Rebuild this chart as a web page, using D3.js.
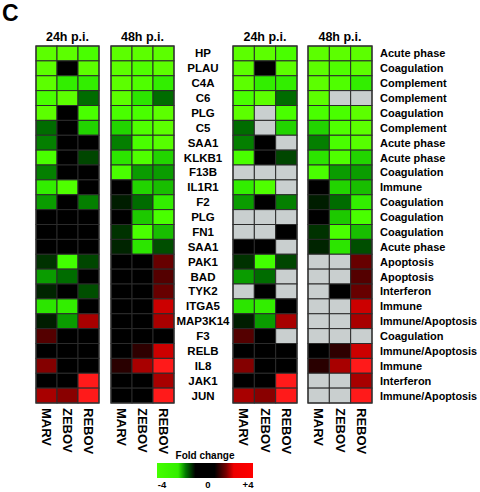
<!DOCTYPE html>
<html><head><meta charset="utf-8">
<script src="https://cdn.jsdelivr.net/npm/d3@7/dist/d3.min.js"></script>
<style>body{margin:0;background:#fff}svg{display:block;font-family:"Liberation Sans",Arial,sans-serif;font-weight:bold}</style>
</head><body><svg id="c" width="480" height="492"></svg>
<script>
const genes = ["HP","PLAU","C4A","C6","PLG","C5","SAA1","KLKB1","F13B","IL1R1","F2","PLG","FN1","SAA1","PAK1","BAD","TYK2","ITGA5","MAP3K14","F3","RELB","IL8","JAK1","JUN"];
const categories = ["Acute phase","Coagulation","Complement","Complement","Coagulation","Complement","Acute phase","Acute phase","Coagulation","Immune","Coagulation","Coagulation","Coagulation","Acute phase","Apoptosis","Apoptosis","Interferon","Immune","Immune/Apoptosis","Coagulation","Immune/Apoptosis","Immune","Interferon","Immune/Apoptosis"];
const viruses = ["MARV","ZEBOV","REBOV"];
const timepoints = ["24h p.i.","48h p.i."];
// fold change (log scale), rows = genes, cols = MARV, ZEBOV, REBOV
const fc24 = [
 [-4,-4,-3.7],[-4,0,-4],[-4,-3.3,-3.3],[-3.7,-4,-2],[-4,0,-3.7],[-2,0,-3],
 [-2.2,0,0],[-3.7,0,-1.5],[-2.2,0,0],[-3.3,-3.8,0],[-2.5,0,-2.2],[0,0,0],
 [0,0,0],[0,0,0],[-1.2,-3.6,-1.5],[-2.5,-2,0],[-1,0,-1.6],[-3.2,-3.3,0],
 [-0.8,-2.5,3],[1.5,0,0],[0,0,0],[2.3,0,0],[0,0,4],[3,2.4,4]
];
const fc48 = [
 [-4,-4,-4],[-4,-3.8,-4],[-4,-3.8,-3.3],[-4,-3.2,-2],[-3.7,-3.7,-4],[-3,-3.8,-4],
 [-2.2,-3.7,-3.9],[-3.2,-3.8,-3],[-3.7,-2.5,-2.5],[0,-3,-2.8],[-0.8,-2,-3.3],[0,-2.9,-3.7],
 [-1.2,-3.7,-2.8],[-1,-3.2,-1.6],[0,0,1.8],[0,0,1.5],[0,0,1.8],[0,0,3.5],
 [0,0,3],[0,0,0],[0,1,3.5],[0.9,3,4],[0,0,3],[0,0,4]
];
// 1 = not significant (grey) in the right-hand panels
const ns24 = [
 [0,0,0],[0,0,0],[0,0,0],[0,0,0],[0,1,0],[0,1,0],[0,0,1],[0,0,0],[1,1,1],[0,0,1],[0,0,0],[1,1,1],
 [1,1,0],[0,0,1],[0,0,0],[0,0,1],[1,0,1],[0,0,0],[0,0,0],[0,0,1],[0,0,0],[0,0,0],[0,0,0],[0,0,0]
];
const ns48 = [
 [0,0,0],[0,0,0],[0,0,0],[0,1,1],[0,0,0],[0,0,0],[0,0,0],[0,0,0],[0,0,0],[0,0,0],[0,0,0],[0,0,0],
 [0,0,0],[0,0,0],[1,1,0],[1,1,0],[1,0,0],[1,1,0],[1,1,0],[1,1,1],[0,0,0],[0,0,0],[1,1,0],[1,1,0]
];
const legendTicks = ["-4","0","+4"];

const svg = d3.select("#c");
const color = d3.scaleLinear()
  .domain([-4,-3.5,-3,-2.5,-2,-1.5,-1,0,1,1.5,2,3,3.5,4])
  .range(["#5cff00","#3cff00","#22d400","#0a9c00","#006c00","#004600","#002400","#000000","#2e0000","#540000","#740000","#a80000","#cc0000","#ff1a1a"])
  .clamp(true);
const grey = "#c9cfcf";

const y = d3.scaleBand().domain(d3.range(genes.length)).range([46, 403]);
const panels = [
  {x0:36, x1:99, data:fc24, mask:null, title:timepoints[0]},
  {x0:111, x1:174, data:fc48, mask:null, title:timepoints[1]},
  {x0:233, x1:297, data:fc24, mask:ns24, title:timepoints[0]},
  {x0:308, x1:372, data:fc48, mask:ns48, title:timepoints[1]}
];

svg.append("text").attr("x",2).attr("y",21).attr("font-size",23).text("C");

panels.forEach(p => {
  const x = d3.scaleBand().domain(viruses).range([p.x0, p.x1]);
  const g = svg.append("g");
  const cells = [];
  p.data.forEach((row,i) => row.forEach((v,j) => cells.push({i, v:viruses[j], val:v, ns: p.mask ? p.mask[i][j] : 0})));
  g.selectAll("rect.cell").data(cells).enter().append("rect")
    .attr("x", d => x(d.v)).attr("y", d => y(d.i))
    .attr("width", x.bandwidth()).attr("height", y.bandwidth())
    .attr("fill", d => d.ns ? grey : color(d.val))
    .attr("stroke", "#2b2b2b").attr("stroke-width", 1);
  g.append("rect").attr("x", p.x0).attr("y", 46).attr("width", p.x1-p.x0).attr("height", 403-46)
    .attr("fill","none").attr("stroke","#333").attr("stroke-width",1.2);
  g.append("text").attr("x",(p.x0+p.x1)/2).attr("y",41).attr("text-anchor","middle")
    .attr("font-size",12.5).text(p.title);
  g.selectAll("text.col").data(viruses).enter().append("text")
    .attr("transform", d => `translate(${x(d)+x.bandwidth()/2-4.5},408) rotate(90)`)
    .attr("font-size",13).text(d => d);
});

svg.selectAll("text.gene").data(genes).enter().append("text")
  .attr("x",203).attr("y",(d,i)=>y(i)+y.bandwidth()/2+4)
  .attr("text-anchor","middle").attr("font-size",11.5).text(d=>d);
svg.selectAll("text.cat").data(categories).enter().append("text")
  .attr("x",380).attr("y",(d,i)=>y(i)+y.bandwidth()/2+4)
  .attr("font-size",11).text(d=>d)
  .each(function(){ const w=this.getComputedTextLength(); if(w>97){ d3.select(this).attr("textLength",97).attr("lengthAdjust","spacingAndGlyphs"); } });

// legend
const defs = svg.append("defs");
const grad = defs.append("linearGradient").attr("id","lg");
[[0,"#44ff00"],[0.22,"#33ee00"],[0.3,"#007700"],[0.4,"#000"],[0.6,"#000"],[0.72,"#770000"],[0.8,"#ee0000"],[1,"#ff0000"]]
  .forEach(s => grad.append("stop").attr("offset",s[0]).attr("stop-color",s[1]));
const lx = d3.scaleLinear().domain([-4,4]).range([157,253]);
svg.append("rect").attr("x",lx(-4)).attr("y",463).attr("width",lx(4)-lx(-4)).attr("height",15).attr("fill","url(#lg)");
svg.append("text").attr("x",205).attr("y",459).attr("text-anchor","middle").attr("font-size",10).text("Fold change");
svg.selectAll("text.lt").data(legendTicks).enter().append("text")
  .attr("x",(d,i)=>[162,208,248][i]).attr("y",488).attr("text-anchor","middle").attr("font-size",9.5).text(d=>d);
</script></body></html>
